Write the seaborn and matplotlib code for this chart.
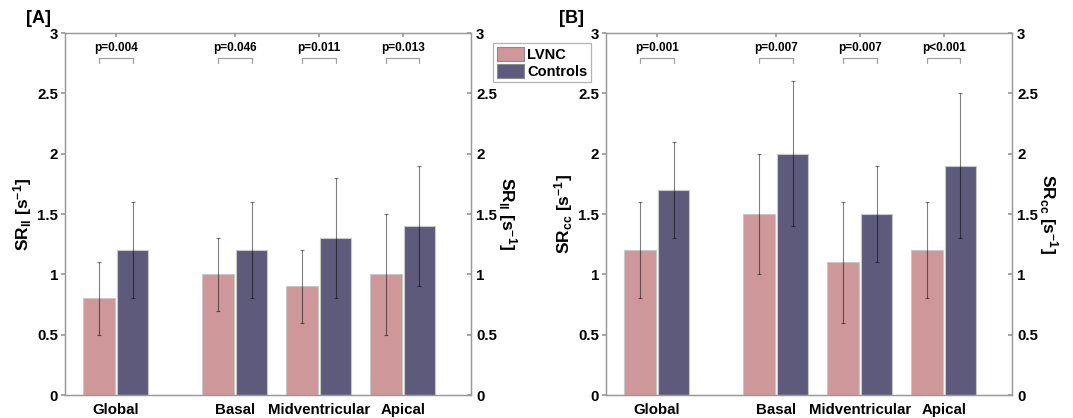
import numpy as np
import pandas as pd
import matplotlib
matplotlib.use("Agg")
import matplotlib.pyplot as plt
import seaborn as sns
from matplotlib.patches import Patch

# Data
regions = ["Global", "Basal", "Midventricular", "Apical"]
groups = ["LVNC", "Controls"]

ll_lvnc = [0.8, 1.0, 0.9, 1.0]
ll_lvnc_sd = [0.3, 0.3, 0.3, 0.5]
ll_ctrl = [1.2, 1.2, 1.3, 1.4]
ll_ctrl_sd = [0.4, 0.4, 0.5, 0.5]
ll_p = ["p=0.004", "p=0.046", "p=0.011", "p=0.013"]

cc_lvnc = [1.2, 1.5, 1.1, 1.2]
cc_lvnc_sd = [0.4, 0.5, 0.5, 0.4]
cc_ctrl = [1.7, 2.0, 1.5, 1.9]
cc_ctrl_sd = [0.4, 0.6, 0.4, 0.6]
cc_p = ["p=0.001", "p=0.007", "p=0.007", "p<0.001"]

yticks = [0, 0.5, 1, 1.5, 2, 2.5, 3]
ytick_labels = ["0", "0.5", "1", "1.5", "2", "2.5", "3"]

# layout: Global is set apart from the three segments
positions = [1.0, 2.42, 3.42, 4.42]

colors = {"LVNC": "#CE9799", "Controls": "#5E5A7C"}
spine_col = "#9a9a9a"

sns.set_theme(style="white")
plt.rcParams["font.family"] = ["Liberation Sans", "DejaVu Sans"]
plt.rcParams["font.weight"] = "bold"
plt.rcParams["text.color"] = "black"
plt.rcParams["axes.labelcolor"] = "black"
plt.rcParams["xtick.color"] = "black"
plt.rcParams["ytick.color"] = "black"
plt.rcParams["mathtext.fontset"] = "custom"
plt.rcParams["mathtext.rm"] = "Liberation Sans:bold"
plt.rcParams["mathtext.it"] = "Liberation Sans:bold"
plt.rcParams["mathtext.bf"] = "Liberation Sans:bold"


def make_df(lvnc, ctrl):
    rows = []
    for pos, a, b in zip(positions, lvnc, ctrl):
        rows.append({"pos": pos, "group": "LVNC", "value": a})
        rows.append({"pos": pos, "group": "Controls", "value": b})
    return pd.DataFrame(rows)


def draw_panel(fig, rect, lvnc, lvnc_sd, ctrl, ctrl_sd, pvals, label, tag, tag_x):
    ax = fig.add_axes(rect)
    df = make_df(lvnc, ctrl)
    sns.barplot(data=df, x="pos", y="value", hue="group", hue_order=groups,
                palette=colors, native_scale=True, width=0.8, gap=0.06,
                saturation=1, errorbar=None, legend=False,
                edgecolor="#c8c8c8", linewidth=0.8, ax=ax)

    # error bars on the bar centres
    bars = sorted(ax.patches, key=lambda p: p.get_x())
    sds = []
    for a, b in zip(lvnc_sd, ctrl_sd):
        sds += [a, b]
    xs = [p.get_x() + p.get_width() / 2 for p in bars]
    hs = [p.get_height() for p in bars]
    ax.errorbar(xs, hs, yerr=sds, fmt="none", ecolor="black", elinewidth=0.8,
                capsize=1.5, capthick=0.8, alpha=0.5, zorder=5)

    # significance brackets
    for i, p in enumerate(pvals):
        x0, x1 = xs[2 * i], xs[2 * i + 1]
        ax.plot([x0, x0, x1, x1], [2.75, 2.79, 2.79, 2.75], color="#a0a0a0",
                lw=0.9, zorder=5)
        ax.text((x0 + x1) / 2, 2.83, p, ha="center", va="bottom",
                fontsize=8.5, fontweight="bold")

    ax.set_xlim(0.395, 5.23)
    ax.set_ylim(0, 3)
    ax.set_xticks(positions)
    ax.set_xticklabels(regions, fontsize=10.8, fontweight="bold")
    ax.set_yticks(yticks)
    ax.set_yticklabels(ytick_labels, fontsize=10.8, fontweight="bold")
    ax.set_xlabel("")
    ax.set_ylabel(label, fontsize=12.5, fontweight="bold", labelpad=2)
    ax.tick_params(axis="x", bottom=False, top=True, direction="in",
                   length=3, color=spine_col, pad=6)
    ax.tick_params(axis="y", left=True, direction="out", length=3,
                   color=spine_col, pad=2)

    ax2 = ax.twinx()
    ax2.set_ylim(0, 3)
    ax2.set_yticks(yticks)
    ax2.set_yticklabels(ytick_labels, fontsize=10.8, fontweight="bold")
    ax2.tick_params(axis="y", right=True, direction="in", length=3,
                    color=spine_col, pad=4)
    ax2.set_ylabel(label, fontsize=12.5, fontweight="bold", rotation=270,
                   labelpad=16)
    for a in (ax, ax2):
        for s in a.spines.values():
            s.set_visible(True)
            s.set_color(spine_col)
            s.set_linewidth(0.9)

    fig.text(tag_x, 0.955, tag, fontsize=13, fontweight="bold",
             ha="left", va="center")
    return ax


fig = plt.figure(figsize=(10.73, 4.18), dpi=100)

ll_label = r"SR$_{\mathrm{ll}}$ [s$^{\mathrm{-1}}$]"
cc_label = r"SR$_{\mathrm{cc}}$ [s$^{\mathrm{-1}}$]"

draw_panel(fig, [0.0606, 0.055, 0.378, 0.866], ll_lvnc, ll_lvnc_sd,
           ll_ctrl, ll_ctrl_sd, ll_p, ll_label, "[A]", 0.024)
draw_panel(fig, [0.5648, 0.055, 0.378, 0.866], cc_lvnc, cc_lvnc_sd,
           cc_ctrl, cc_ctrl_sd, cc_p, cc_label, "[B]", 0.521)

handles = [Patch(facecolor=colors[g], edgecolor="#8a8a8a", linewidth=0.8)
           for g in groups]
leg = fig.legend(handles, groups, loc="upper left",
                 bbox_to_anchor=(0.4595, 0.897), frameon=True, fancybox=False,
                 fontsize=10.5, handlelength=1.9, handleheight=1.1,
                 handletextpad=0.2, borderpad=0.25, labelspacing=0.15,
                 borderaxespad=0)
leg.get_frame().set_edgecolor("#a0a0a0")
leg.get_frame().set_linewidth(0.9)
for t in leg.get_texts():
    t.set_fontweight("bold")

fig.savefig("out.png", dpi=100)
